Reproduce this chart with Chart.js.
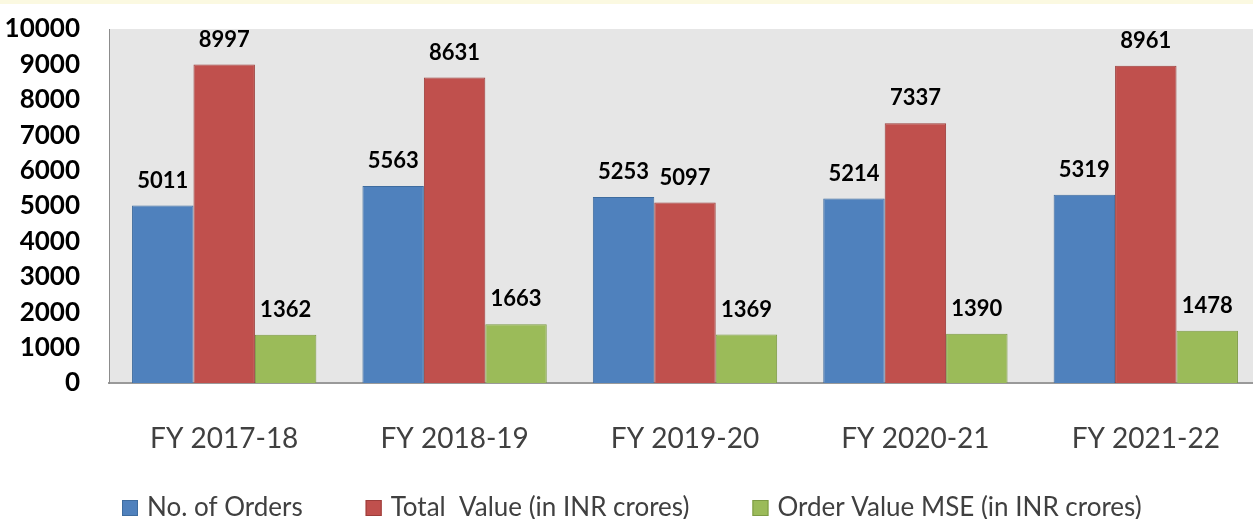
<!DOCTYPE html>
<html>
<head>
<meta charset="utf-8">
<script src="https://cdn.jsdelivr.net/npm/chart.js@4"></script>
<style>
  body { margin: 0; background: #fff; overflow: hidden; }
  #strip { position: absolute; left: 0; top: 0; width: 1253px; height: 4px; background: #fbf9e1; z-index: 2; }
  #wrap { position: relative; width: 1261px; height: 519px; }
</style>
</head>
<body>
<div id="strip"></div>
<div id="wrap"><canvas id="myChart" width="1261" height="519"></canvas></div>
<script>
var years = ["FY 2017-18", "FY 2018-19", "FY 2019-20", "FY 2020-21", "FY 2021-22"];
var orders = [5011, 5563, 5253, 5214, 5319];
var totalValue = [8997, 8631, 5097, 7337, 8961];
var mseValue = [1362, 1663, 1369, 1390, 1478];
var seriesNames = ["No. of Orders", "Total  Value (in INR crores)", "Order Value MSE (in INR crores)"];

var ctx = document.getElementById("myChart").getContext("2d");

// gray plot area behind the bars
var plotBg = {
  id: "plotBg",
  beforeDraw: function(chart) {
    var a = chart.chartArea;
    var c = chart.ctx;
    c.save();
    c.fillStyle = "#e6e6e6";
    c.fillRect(a.left, a.top, a.right - a.left, a.bottom - a.top);
    c.restore();
  }
};

// value above each bar
var barLabels = {
  id: "barLabels",
  afterDatasetsDraw: function(chart) {
    var c = chart.ctx;
    c.save();
    c.font = "bold 22px Lato";
    c.fillStyle = "#000";
    c.textAlign = "center";
    c.textBaseline = "middle";
    chart.data.datasets.forEach(function(ds, i) {
      chart.getDatasetMeta(i).data.forEach(function(bar, j) {
        c.fillText(ds.data[j], bar.x, bar.y - 25);
      });
    });
    c.restore();
  }
};

// one-row legend with wide gaps like the original
var rowLegend = {
  id: "rowLegend",
  afterDraw: function(chart) {
    var c = chart.ctx;
    c.save();
    c.font = "26px Lato";
    c.textBaseline = "middle";
    var x = 122;
    var y = 508;
    chart.data.datasets.forEach(function(ds) {
      c.fillStyle = ds.backgroundColor;
      c.fillRect(x, y - 8, 16, 16);
      c.strokeStyle = ds.borderColor;
      c.lineWidth = 1;
      c.strokeRect(x + 0.5, y - 7.5, 15, 15);
      c.fillStyle = "#404040";
      c.fillText(ds.label, x + 25, y);
      x += 25 + c.measureText(ds.label).width + 63;
    });
    c.restore();
  }
};

var chart = new Chart(ctx, {
  type: "bar",
  data: {
    labels: years,
    datasets: [
      { label: seriesNames[0], data: orders, backgroundColor: "#4f81bd", borderColor: "#3e6c9f", borderWidth: 1 },
      { label: seriesNames[1], data: totalValue, backgroundColor: "#c0504d", borderColor: "#9c3d3a", borderWidth: 1 },
      { label: seriesNames[2], data: mseValue, backgroundColor: "#9bbb59", borderColor: "#7d9b44", borderWidth: 1 }
    ]
  },
  options: {
    responsive: false,
    animation: false,
    layout: { padding: { top: 0, right: 0, bottom: 0, left: 0 } },
    datasets: { bar: { categoryPercentage: 0.8, barPercentage: 1 } },
    plugins: {
      legend: { display: false },
      tooltip: { enabled: false }
    },
    scales: {
      x: {
        grid: { display: false },
        border: { display: true, color: "#9a9a9a", width: 2 },
        ticks: { color: "#404040", font: { family: "Lato", size: 28 }, padding: 31, maxRotation: 0 },
        afterFit: function(scale) { scale.height = 136; }
      },
      y: {
        min: 0,
        max: 10000,
        grid: { display: false },
        border: { display: true, color: "#8c8c8c", width: 1 },
        ticks: {
          stepSize: 1000, color: "#000", font: { family: "Lato", size: 26, weight: "bold" }, padding: 21,
          callback: function(v) { return String(v); }
        },
        afterFit: function(scale) {
          scale.width = 109;
          scale.paddingTop = 29;
          scale.paddingBottom = 0;
        }
      }
    }
  },
  plugins: [plotBg, barLabels, rowLegend]
});
</script>
</body>
</html>
